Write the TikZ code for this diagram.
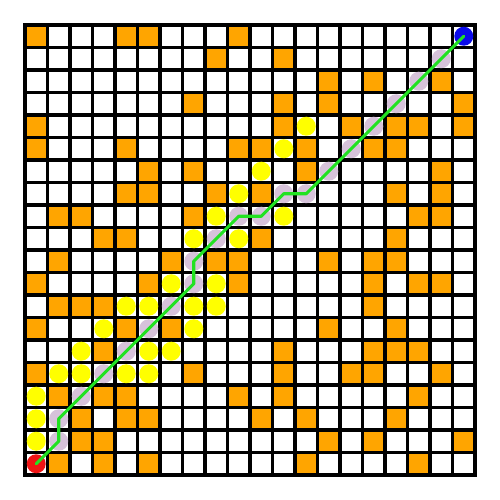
\documentclass[tikz,border=0pt]{standalone}
\definecolor{cellorange}{RGB}{255,165,0}
\definecolor{dotyellow}{RGB}{255,255,0}
\definecolor{pathpurple}{RGB}{214,194,218}
\definecolor{pathgreen}{RGB}{34,226,34}
\definecolor{startred}{RGB}{240,20,20}
\definecolor{goalblue}{RGB}{10,10,235}
\begin{document}
\begin{tikzpicture}[x=0.45cm,y=0.45cm,
  blocked/.style={fill=cellorange},
  gridline/.style={line width=1.9pt,draw=black},
  ydot/.style={circle,fill=dotyellow,inner sep=0pt,minimum size=0.38cm},
  pdot/.style={circle,fill=pathpurple,inner sep=0pt,minimum size=0.38cm},
  startdot/.style={circle,fill=startred,inner sep=0pt,minimum size=0.38cm},
  goaldot/.style={circle,fill=goalblue,inner sep=0pt,minimum size=0.38cm},
  pathline/.style={draw=pathgreen,line width=1.8pt,line join=round,line cap=round}]
\useasboundingbox (-1.111,-1.111) rectangle (21.111,21.111);
\fill[white] (-1.111,-1.111) rectangle (21.111,21.111);
% blocked cells: row/list of columns (row 0 at top)
\foreach \r/\cs in {0/{0,4,5,9},1/{8,11},2/{13,15,18},3/{7,11,13,19},
  4/{0,11,14,16,17,19},5/{0,4,9,10,12,15,16},6/{5,7,12,18},
  7/{4,5,8,10,16,18},8/{1,2,7,17,18},9/{3,4,10,16},
  10/{1,6,8,9,13,15,16},11/{0,5,9,15,17,18},12/{1,2,3,15},
  13/{0,4,6,13,16},14/{3,11,15,16,17},15/{0,7,11,14,15,18},
  16/{1,3,4,9,11,17},17/{2,4,5,10,12,16},18/{2,3,13,15,19},
  19/{1,3,5,12,17}}{
  \foreach \c in \cs {
    \path[blocked] (\c,19-\r) rectangle ++(1,1);
  }
}
\foreach \k in {1,...,19}{
  \draw[gridline] (\k,0) -- (\k,20);
  \draw[gridline] (0,\k) -- (20,\k);
}
\draw[gridline,line join=miter] (0,0) rectangle (20,20);
% explored cells
\foreach \c/\r in {12/4,11/5,10/6,9/7,8/8,11/8,7/9,9/9,6/11,8/11,
  4/12,5/12,7/12,8/12,3/13,7/13,2/14,5/14,6/14,1/15,2/15,4/15,5/15,
  0/16,0/17,0/18}{
  \node[ydot] (y-\c-\r) at (\c+0.5,19.5-\r) {};
}
% path cells
\foreach \c/\r [count=\i] in {1/18,1/17,2/16,3/15,4/14,5/13,6/12,7/11,7/10,
  8/9,9/8,10/8,11/7,12/7,13/6,14/5,15/4,16/3,17/2,18/1}{
  \node[pdot] (p\i) at (\c+0.5,19.5-\r) {};
}
\node[startdot] (start) at (0.5,0.5) {};
\node[goaldot] (goal) at (19.5,19.5) {};
\draw[pathline] (start.center) \foreach \i in {1,...,20}{ -- (p\i.center)} -- (goal.center);
\end{tikzpicture}
\end{document}
